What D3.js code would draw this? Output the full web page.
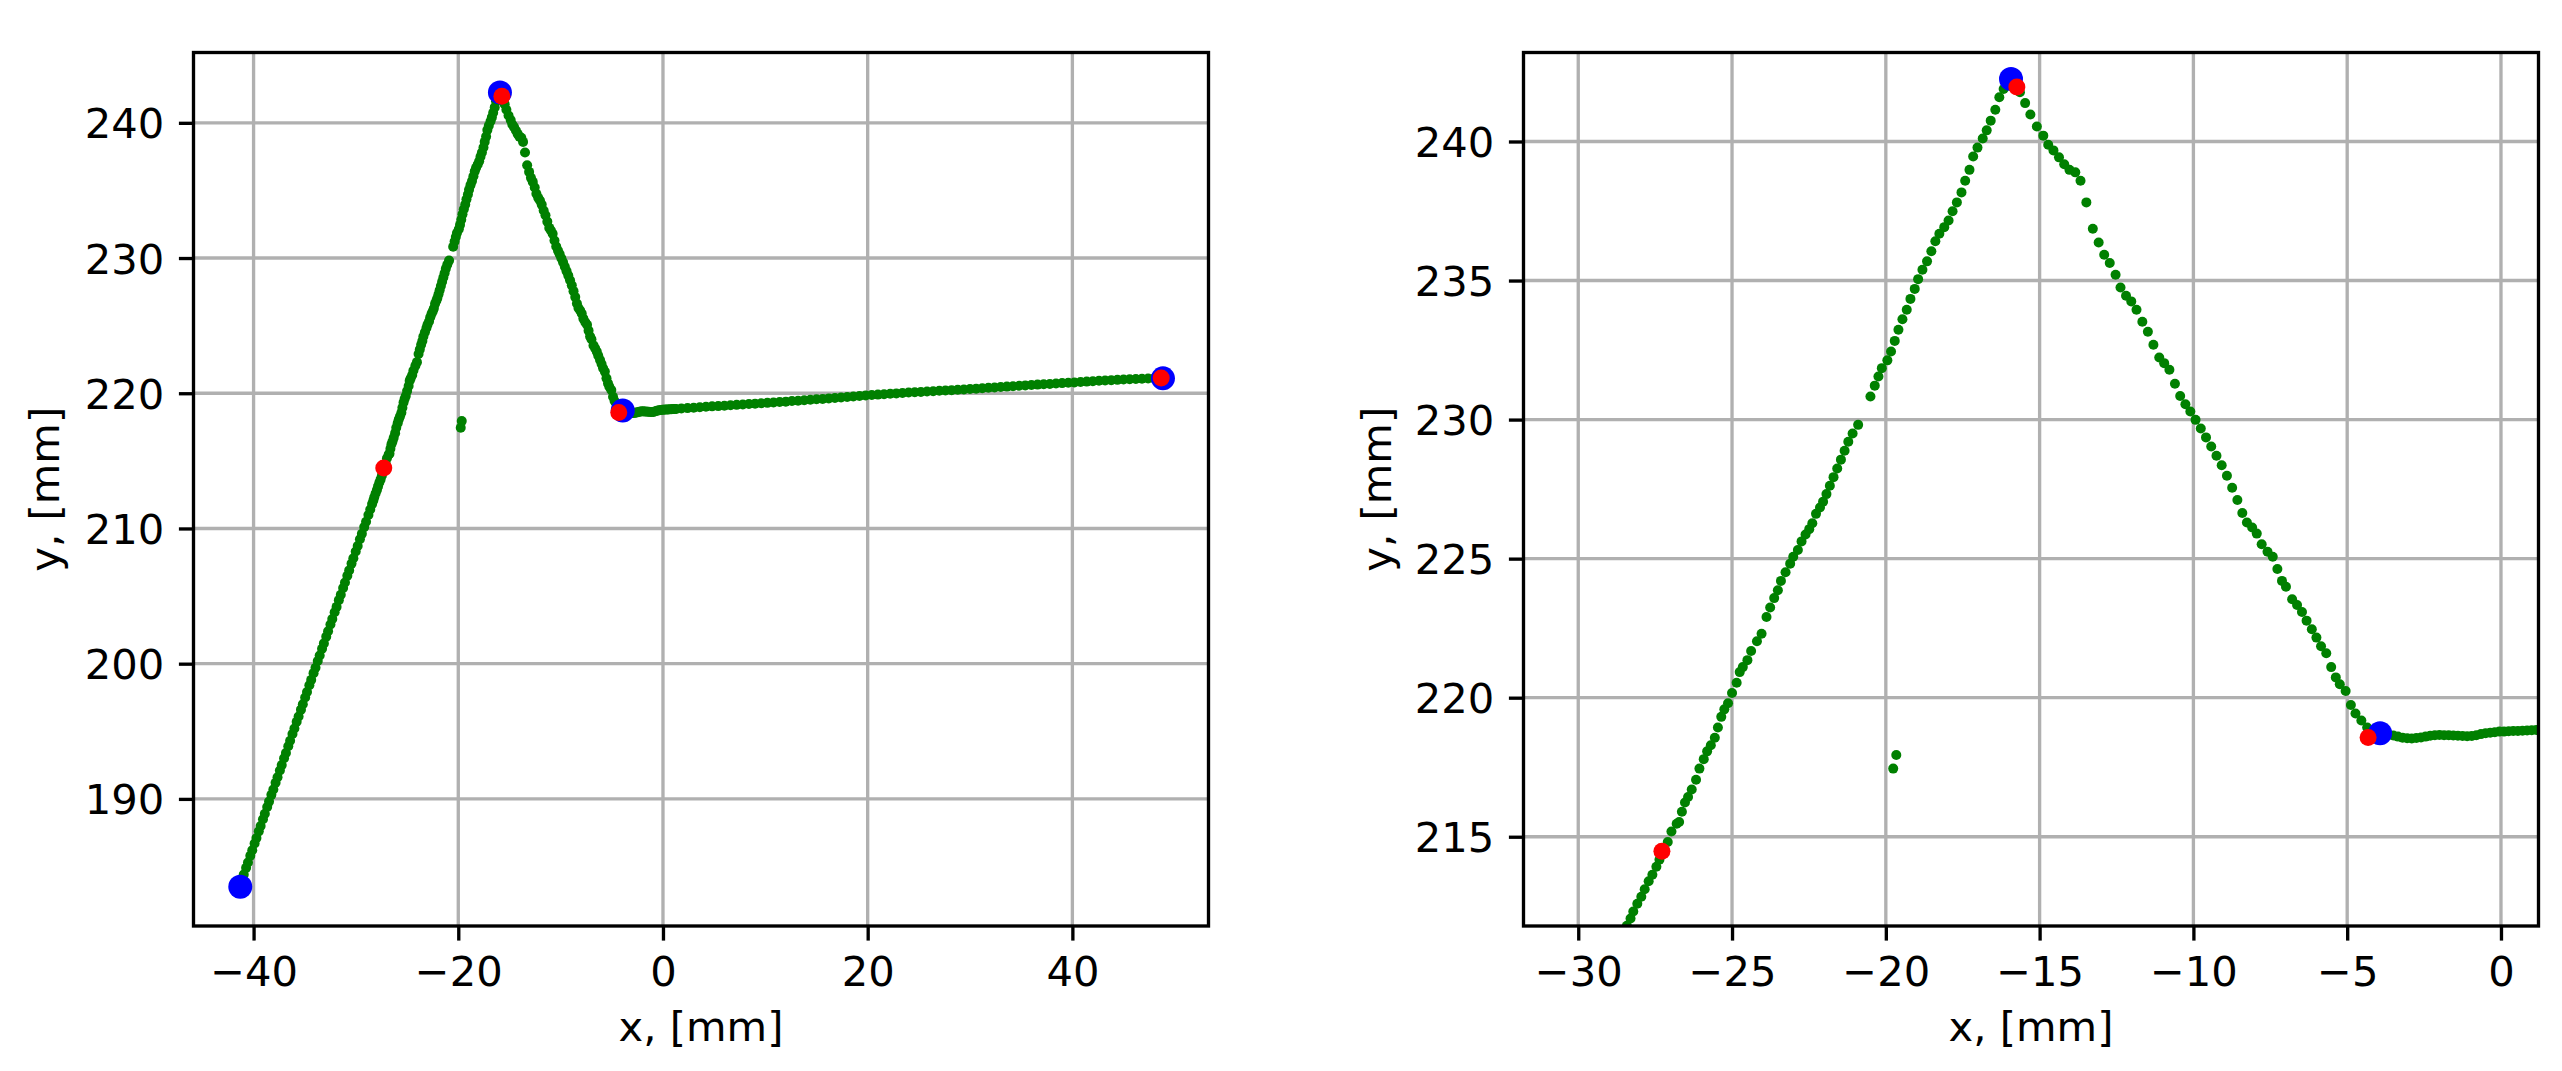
<!DOCTYPE html>
<html><head><meta charset="utf-8">
<script src="https://cdn.jsdelivr.net/npm/d3@7"></script>
<style>html,body{margin:0;padding:0;background:#fff;} svg{display:block;}</style>
</head><body>
<svg id="chart" width="2562" height="1071"></svg>
<script>
// ---------------- DATA ----------------
// Green trajectory, lower rising part (x, y in mm)
const riseLow = [
[-41.32,183.6],[-41.14,184.0],[-40.96,184.4],[-40.73,184.9],[-40.55,185.3],[-40.32,185.8],[-40.13,186.2],[-39.90,186.7],
[-39.72,187.1],[-39.49,187.6],[-39.31,188.0],[-39.08,188.5],[-38.90,188.9],[-38.67,189.4],[-38.49,189.8],[-38.26,190.3],
[-38.07,190.7],[-37.85,191.2],[-37.66,191.6],[-37.43,192.1],[-37.25,192.5],[-37.02,193.0],[-36.84,193.4],[-36.61,193.9],
[-36.43,194.3],[-36.20,194.8],[-36.01,195.2],[-35.79,195.7],[-35.60,196.1],[-35.37,196.6],[-35.19,197.0],[-34.96,197.5],
[-34.78,197.9],[-34.55,198.4],[-34.37,198.8],[-34.14,199.3],[-33.95,199.7],[-33.73,200.2],[-33.54,200.6],[-33.31,201.1],
[-33.13,201.5],[-32.90,202.0],[-32.72,202.4],[-32.49,202.9],[-32.31,203.3],[-32.08,203.8],[-31.89,204.2],[-31.67,204.7],
[-31.48,205.1],[-31.25,205.6],[-31.07,206.0],[-30.84,206.5],[-30.66,206.9],[-30.43,207.4],[-30.25,207.8],[-30.02,208.3],
[-29.83,208.7],[-29.61,209.2],[-29.42,209.6],[-29.19,210.1],[-29.01,210.5],[-28.78,211.0],[-28.60,211.4],[-28.42,211.8]
];
// Green trajectory, upper rising part up to the peak
const riseHigh = [
[-28.30,212.06],[-28.21,212.31],[-28.08,212.59],[-27.95,212.84],[-27.84,213.11],[-27.71,213.40],[-27.59,213.63],[-27.46,213.92],
[-27.36,214.17],[-27.22,214.50],[-27.09,214.81],[-26.97,215.19],[-26.80,215.47],[-26.72,215.53],[-26.63,215.90],[-26.53,216.23],
[-26.43,216.43],[-26.31,216.70],[-26.17,217.05],[-26.06,217.45],[-25.92,217.79],[-25.81,218.07],[-25.69,218.29],[-25.56,218.56],
[-25.46,218.93],[-25.35,219.31],[-25.25,219.58],[-25.13,219.80],[-25.00,220.17],[-24.85,220.54],[-24.75,220.92],[-24.65,221.10],
[-24.50,221.35],[-24.38,221.68],[-24.19,222.03],[-24.04,222.30],[-23.88,222.90],[-23.76,223.24],[-23.63,223.58],[-23.51,223.86],
[-23.41,224.20],[-23.26,224.51],[-23.11,224.82],[-23.01,225.07],[-22.86,225.31],[-22.74,225.62],[-22.61,225.87],[-22.49,226.06],
[-22.39,226.27],[-22.27,226.61],[-22.14,226.84],[-22.04,227.05],[-21.93,227.32],[-21.82,227.62],[-21.70,227.93],[-21.58,228.24],
[-21.46,228.56],[-21.34,228.88],[-21.22,229.20],[-21.08,229.50],[-20.90,229.81],[-20.50,230.83],[-20.36,231.22],[-20.24,231.55],
[-20.13,231.85],[-19.95,232.13],[-19.83,232.45],[-19.71,232.83],[-19.59,233.23],[-19.46,233.61],[-19.32,233.95],[-19.20,234.34],
[-19.06,234.70],[-18.95,235.05],[-18.81,235.39],[-18.66,235.69],[-18.52,236.05],[-18.39,236.41],[-18.26,236.68],[-18.10,236.92],
[-17.96,237.16],[-17.83,237.49],[-17.69,237.81],[-17.54,238.17],[-17.42,238.59],[-17.28,238.98],[-17.16,239.46],[-17.02,239.78],
[-16.85,240.11],[-16.72,240.40],[-16.59,240.75],[-16.44,241.14],[-16.31,241.59],[-16.17,241.89],[-16.05,242.10]
];
// Green trajectory, falling part after the peak
const fall = [
[-15.64,241.77],[-15.47,241.38],[-15.30,240.97],[-15.09,240.54],[-14.88,240.21],[-14.72,239.88],[-14.55,239.68],[-14.37,239.43],
[-14.20,239.18],[-14.03,238.98],[-13.84,238.89],[-13.67,238.59],[-13.48,237.81],[-13.27,236.86],[-13.08,236.37],[-12.90,235.93],
[-12.72,235.63],[-12.53,235.21],[-12.37,234.75],[-12.19,234.45],[-12.02,234.25],[-11.85,233.95],[-11.66,233.52],[-11.48,233.16],
[-11.30,232.69],[-11.11,232.23],[-10.95,232.03],[-10.78,231.79],[-10.60,231.29],[-10.43,230.85],[-10.26,230.55],[-10.10,230.29],
[-9.93,229.99],[-9.76,229.68],[-9.59,229.36],[-9.42,229.03],[-9.25,228.70],[-9.08,228.36],[-8.91,227.98],[-8.74,227.55],
[-8.57,227.11],[-8.41,226.64],[-8.26,226.30],[-8.09,226.12],[-7.94,225.90],[-7.78,225.52],[-7.59,225.25],[-7.42,225.07],
[-7.27,224.63],[-7.12,224.20],[-6.99,223.99],[-6.79,223.54],[-6.63,223.33],[-6.47,223.08],[-6.32,222.77],[-6.15,222.46],
[-6.00,222.16],[-5.85,221.85],[-5.68,221.60],[-5.52,221.10],[-5.37,220.73],[-5.24,220.48],[-5.05,220.24],[-4.88,219.74],
[-4.73,219.43],[-4.54,219.18],[-4.35,218.93],[-4.15,218.78]
];
// Green trajectory, nearly flat final part
const flat = [
[-3.80,218.70],[-3.65,218.67],[-3.50,218.64],[-3.35,218.60],[-3.20,218.56],[-3.05,218.54],[-2.90,218.53],[-2.75,218.55],
[-2.60,218.57],[-2.45,218.60],[-2.30,218.63],[-2.15,218.65],[-2.00,218.66],[-1.85,218.65],[-1.70,218.65],[-1.55,218.64],
[-1.40,218.63],[-1.25,218.62],[-1.10,218.61],[-0.95,218.62],[-0.80,218.65],[-0.65,218.69],[-0.50,218.72],[-0.35,218.74],
[-0.20,218.76],[-0.05,218.78],[0.10,218.78],[0.25,218.79],[0.40,218.80],[0.55,218.80],[0.70,218.81],[0.85,218.82],
[1.00,218.83],[1.15,218.84],[1.30,218.84],[1.8,218.87],[2.4,218.90],[3.0,218.93],[3.6,218.97],[4.2,219.00],[4.8,219.03],
[5.4,219.05],[6.0,219.08],[6.6,219.11],[7.2,219.14],[7.8,219.17],[8.4,219.20],[9.0,219.23],[9.6,219.26],[10.2,219.29],
[10.8,219.32],[11.4,219.35],[12.0,219.38],[12.6,219.42],[13.2,219.45],[13.8,219.48],[14.4,219.52],[15.0,219.55],[15.6,219.58],
[16.2,219.62],[16.8,219.65],[17.4,219.69],[18.0,219.72],[18.6,219.76],[19.2,219.80],[19.8,219.84],[20.4,219.87],[21.0,219.90],
[21.6,219.93],[22.2,219.96],[22.8,219.99],[23.4,220.02],[24.0,220.05],[24.6,220.08],[25.2,220.10],[25.8,220.13],[26.4,220.15],
[27.0,220.18],[27.6,220.20],[28.2,220.23],[28.8,220.26],[29.4,220.28],[30.0,220.31],[30.6,220.34],[31.2,220.37],[31.8,220.40],
[32.4,220.43],[33.0,220.46],[33.6,220.49],[34.2,220.52],[34.8,220.55],[35.4,220.58],[36.0,220.61],[36.6,220.64],[37.2,220.66],
[37.8,220.69],[38.4,220.72],[39.0,220.75],[39.6,220.78],[40.2,220.80],[40.8,220.83],[41.4,220.86],[42.0,220.89],[42.6,220.92],
[43.2,220.94],[43.8,220.97],[44.4,220.99],[45.0,221.01],[45.6,221.03],[46.2,221.05],[46.8,221.07],[47.4,221.09],[48.0,221.10],
[48.6,221.11]
];
// Two stray green points
const stray = [[-19.66,217.94],[-19.76,217.45]];
// Blue key points and red estimated points
const bluePts = [[-41.30,183.50],[-15.93,242.25],[-3.93,218.72],[48.85,221.10]];
const redPts  = [[-27.28,214.48],[-15.74,241.96],[-4.32,218.57],[48.68,221.12]];

// Axis domains and tick values
const leftXDomain = [-45.87, 53.3];
const leftYDomain = [180.6, 245.2];
const leftXTicks = [-40, -20, 0, 20, 40];
const leftYTicks = [190, 200, 210, 220, 230, 240];
const rightXDomain = [-31.78, 1.22];
const rightYDomain = [211.79, 243.2];
const rightXTicks = [-30, -25, -20, -15, -10, -5, 0];
const rightYTicks = [215, 220, 225, 230, 235, 240];
const xLabel = "x, [mm]";
const yLabel = "y, [mm]";

// ---------------- DRAWING ----------------
const track = [].concat(riseLow, riseHigh, fall, flat, stray);
const svg = d3.select("#chart");
svg.append("rect").attr("width", 2562).attr("height", 1071).attr("fill", "#fff");
const FONT = "'DejaVu Sans', sans-serif";
const FS = 41.67;
const LW = 3.33;
const TICK = 14.6;
const defs = svg.append("defs");

const panels = [
  {left: 193.5, right: 1208.5, top: 52.5, bottom: 926, xd: leftXDomain, yd: leftYDomain, xt: leftXTicks, yt: leftYTicks, ylabX: 59},
  {left: 1523.5, right: 2538.5, top: 52.5, bottom: 926, xd: rightXDomain, yd: rightYDomain, xt: rightXTicks, yt: rightYTicks, ylabX: 1391}
];

panels.forEach((p, i) => {
  const x = d3.scaleLinear().domain(p.xd).range([p.left, p.right]);
  const y = d3.scaleLinear().domain(p.yd).range([p.bottom, p.top]);
  const g = svg.append("g");
  const clipId = "clip" + i;
  defs.append("clipPath").attr("id", clipId).append("rect")
    .attr("x", p.left).attr("y", p.top).attr("width", p.right - p.left).attr("height", p.bottom - p.top);

  // grid
  g.append("g").selectAll("line").data(p.xt).join("line")
    .attr("x1", d => x(d)).attr("x2", d => x(d)).attr("y1", p.top).attr("y2", p.bottom)
    .attr("stroke", "#b0b0b0").attr("stroke-width", LW);
  g.append("g").selectAll("line").data(p.yt).join("line")
    .attr("y1", d => y(d)).attr("y2", d => y(d)).attr("x1", p.left).attr("x2", p.right)
    .attr("stroke", "#b0b0b0").attr("stroke-width", LW);

  // data
  const dg = g.append("g").attr("clip-path", `url(#${clipId})`);
  dg.append("g").selectAll("circle").data(track).join("circle")
    .attr("cx", d => x(d[0])).attr("cy", d => y(d[1])).attr("r", 5).attr("fill", "#008000");
  dg.append("g").selectAll("circle").data(bluePts).join("circle")
    .attr("cx", d => x(d[0])).attr("cy", d => y(d[1])).attr("r", 12).attr("fill", "#0000ff");
  dg.append("g").selectAll("circle").data(redPts).join("circle")
    .attr("cx", d => x(d[0])).attr("cy", d => y(d[1])).attr("r", 8.5).attr("fill", "#ff0000");

  // axes
  const fmt = d3.format("d");
  const ax = g.append("g").attr("transform", `translate(0,${p.bottom})`)
    .call(d3.axisBottom(x).tickValues(p.xt).tickFormat(fmt).tickSizeInner(TICK).tickSizeOuter(0).tickPadding(15.8));
  const ay = g.append("g").attr("transform", `translate(${p.left},0)`)
    .call(d3.axisLeft(y).tickValues(p.yt).tickFormat(fmt).tickSizeInner(TICK).tickSizeOuter(0).tickPadding(14.6));
  [ax, ay].forEach(a => {
    a.select(".domain").remove();
    a.selectAll(".tick line").attr("stroke", "#000").attr("stroke-width", LW);
    a.selectAll(".tick text").attr("fill", "#000").style("font-family", FONT).style("font-size", FS + "px");
  });
  ay.selectAll(".tick text").attr("dy", "0.36em");

  // spines
  g.append("rect").attr("x", p.left).attr("y", p.top)
    .attr("width", p.right - p.left).attr("height", p.bottom - p.top)
    .attr("fill", "none").attr("stroke", "#000").attr("stroke-width", LW);

  // labels
  g.append("text").attr("x", (p.left + p.right) / 2).attr("y", 1041)
    .attr("text-anchor", "middle").style("font-family", FONT).style("font-size", FS + "px").text(xLabel);
  g.append("text").attr("transform", `translate(${p.ylabX},${(p.top + p.bottom) / 2}) rotate(-90)`)
    .attr("text-anchor", "middle").style("font-family", FONT).style("font-size", FS + "px").text(yLabel);
});
</script>
</body></html>
